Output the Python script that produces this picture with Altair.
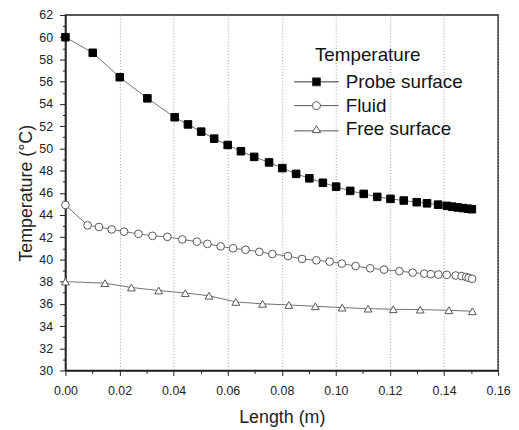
import altair as alt
import pandas as pd

series_names = ["Probe surface", "Fluid", "Free surface"]

probe_x = [0.0, 0.0101, 0.0201, 0.0303, 0.0404, 0.0453, 0.0502, 0.055, 0.060, 0.0649,
           0.0698, 0.0753, 0.0802, 0.0853, 0.0902, 0.0952, 0.1001, 0.1053, 0.1103, 0.1153,
           0.1202, 0.1251, 0.1299, 0.1337, 0.1378, 0.141, 0.143, 0.145, 0.147, 0.149, 0.1503]
probe_y = [60.0, 58.6, 56.4, 54.5, 52.8, 52.15, 51.5, 50.87, 50.3, 49.74,
           49.23, 48.73, 48.22, 47.7, 47.3, 46.9, 46.55, 46.17, 45.9, 45.63,
           45.45, 45.3, 45.15, 45.05, 44.93, 44.82, 44.75, 44.68, 44.62, 44.56, 44.52]

fluid_x = [0.0, 0.0082, 0.0124, 0.0171, 0.0217, 0.027, 0.0322, 0.0377, 0.0432, 0.0486,
           0.0525, 0.0574, 0.062, 0.0666, 0.0717, 0.0765, 0.0823, 0.0875, 0.0928, 0.0977,
           0.1022, 0.1073, 0.1127, 0.1178, 0.1235, 0.1284, 0.1327, 0.1351, 0.1379, 0.141,
           0.1443, 0.1465, 0.1482, 0.1491, 0.1504]
fluid_y = [44.9, 43.07, 42.92, 42.7, 42.5, 42.3, 42.12, 42.03, 41.8, 41.6,
           41.4, 41.17, 41.0, 40.87, 40.68, 40.48, 40.3, 40.04, 39.92, 39.8,
           39.62, 39.4, 39.2, 39.08, 38.94, 38.81, 38.72, 38.67, 38.64, 38.61,
           38.55, 38.5, 38.42, 38.34, 38.25]

free_x = [0.0, 0.0146, 0.0244, 0.0345, 0.0443, 0.0531, 0.063, 0.0729, 0.0826, 0.0924,
          0.1023, 0.1119, 0.1212, 0.1312, 0.1418, 0.1505]
free_y = [38.0, 37.86, 37.47, 37.2, 36.97, 36.73, 36.17, 36.0, 35.9, 35.78,
          35.66, 35.57, 35.51, 35.48, 35.42, 35.33]

x_major_ticks = [i / 100 for i in range(0, 17, 2)]
x_minor_ticks = [i / 100 for i in range(1, 17, 2)]
y_major_ticks = list(range(30, 63, 2))
y_minor_ticks = list(range(31, 62, 2))

rows = []
for name, xs, ys in [(series_names[0], probe_x, probe_y),
                     (series_names[1], fluid_x, fluid_y),
                     (series_names[2], free_x, free_y)]:
    for xv, yv in zip(xs, ys):
        rows.append({"series": name, "x": xv, "y": yv})
df = pd.DataFrame(rows)

FONT = "Liberation Sans"
LINE_GRAY = "#707070"
MARK_GRAY = "#555555"

fill_range = ["#000000", "#ffffff", "#ffffff"]
stroke_range = ["#000000", MARK_GRAY, MARK_GRAY]

# legend symbols: horizontal line with the marker in the middle (unit = 5 px at size 100),
# drawn 1.6 units left of the symbol anchor
legend_paths = [
    "M-6.1,0H-2.4M-0.8,0H2.9M-2.4,-0.8H-0.8V0.8H-2.4Z",
    "M-6.1,0H-2.4M-0.8,0H2.9M-2.4,0A0.8,0.8 0 1,0 -0.8,0A0.8,0.8 0 1,0 -2.4,0Z",
    "M-6.1,0.3H-2.15M-1.05,0.3H2.9M-1.6,-0.75L-0.75,0.65L-2.45,0.65Z",
]

x_scale = alt.Scale(domain=[0, 0.16], nice=False, zero=False)
y_scale = alt.Scale(domain=[30, 62], nice=False, zero=False)

lines = alt.Chart(df).mark_line(color=LINE_GRAY, strokeWidth=1).encode(
    x=alt.X("x:Q", scale=x_scale,
            axis=alt.Axis(values=x_major_ticks, labelExpr="format(abs(datum.value), '.2f')",
                          orient="bottom", tickSize=5, grid=True, gridDash=[1, 2],
                          gridColor="#a0a0a0", gridWidth=1, labelOverlap=False,
                          labelFlush=False, labelPadding=9,
                          title="Length (m)", titlePadding=12)),
    y=alt.Y("y:Q", scale=y_scale,
            axis=alt.Axis(values=y_major_ticks, orient="left", tickSize=6, grid=False,
                          labelOverlap=False, labelFlush=False, labelPadding=7,
                          title="Temperature (°C)", titlePadding=3)),
    detail="series:N", order="x:Q",
)

points = alt.Chart(df).mark_point(opacity=1, strokeWidth=1).encode(
    x=alt.X("x:Q", scale=x_scale,
            axis=alt.Axis(values=x_minor_ticks, orient="bottom", labels=False, domain=False,
                          grid=False, tickSize=3, title=None)),
    y=alt.Y("y:Q", scale=y_scale,
            axis=alt.Axis(values=y_minor_ticks, orient="left", labels=False, domain=False,
                          grid=False, tickSize=3, title=None)),
    shape=alt.Shape("series:N", scale=alt.Scale(domain=series_names,
                    range=["square", "circle", "triangle-up"]), legend=None),
    fill=alt.Fill("series:N", scale=alt.Scale(domain=series_names, range=fill_range), legend=None),
    stroke=alt.Stroke("series:N", scale=alt.Scale(domain=series_names, range=stroke_range), legend=None),
    size=alt.Size("series:N", scale=alt.Scale(domain=series_names, range=[58, 62, 68]), legend=None),
)

leg = alt.Legend(title="Temperature", orient="none", legendX=252, legendY=31,
                 titleFontSize=19, titleFontWeight="normal", titleFont=FONT,
                 titleColor="#111", titleAnchor="start", titlePadding=8,
                 labelFontSize=19, labelFont=FONT, labelColor="#111",
                 labelOffset=12, symbolSize=100, symbolStrokeWidth=1,
                 rowPadding=4, padding=0)

legend_layer = alt.Chart(df).transform_filter("false").mark_point(opacity=1, strokeWidth=1).encode(
    x=alt.X("x:Q", scale=x_scale, axis=None),
    y=alt.Y("y:Q", scale=y_scale, axis=None),
    shape=alt.Shape("series:N", scale=alt.Scale(domain=series_names, range=legend_paths), legend=leg),
    fill=alt.Fill("series:N", scale=alt.Scale(domain=series_names, range=fill_range), legend=leg),
    stroke=alt.Stroke("series:N", scale=alt.Scale(domain=series_names,
                      range=["#333333", MARK_GRAY, MARK_GRAY]), legend=leg),
)

chart = alt.layer(lines, points, legend_layer).resolve_scale(
    shape="independent", fill="independent", stroke="independent"
).resolve_axis(
    x="independent", y="independent"
).properties(
    width=437, height=359, autosize="none",
    padding={"left": 58, "top": 5, "right": 13, "bottom": 57},
).configure_view(
    stroke="#222222", strokeWidth=1.5
).configure_axis(
    labelFont=FONT, titleFont=FONT, labelFontSize=12.5, titleFontSize=18,
    titleFontWeight="normal", labelColor="#222", titleColor="#222",
    domainColor="#222", domainWidth=1.5, tickColor="#222", tickWidth=1,
)

chart.save("out.html", embed_options={"renderer": "svg", "actions": False})
